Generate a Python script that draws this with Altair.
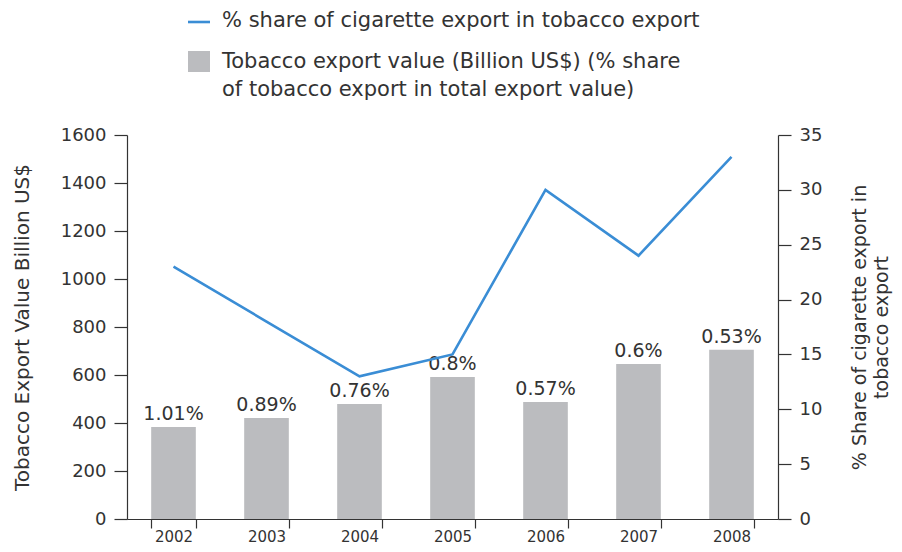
import altair as alt
import pandas as pd

years = ["2002", "2003", "2004", "2005", "2006", "2007", "2008"]
export_value = [383, 421, 479, 592, 487, 646, 705]
cig_share = [23, 18, 13, 15, 30, 24, 33]
bar_labels = ["1.01%", "0.89%", "0.76%", "0.8%", "0.57%", "0.6%", "0.53%"]

legend_line_label = "% share of cigarette export in tobacco export"
legend_bar_label = ["Tobacco export value (Billion US$) (% share",
                    "of tobacco export in total export value)"]

FONT = "DejaVu Sans"
TXT = "#333333"
BAR = "#BBBCBF"
LINE = "#3A8DD5"

df = pd.DataFrame({"year": years, "value": export_value,
                   "share": cig_share, "label": bar_labels})

left_title = "Tobacco Export Value Billion US$"
left_axis = alt.Axis(values=list(range(0, 1601, 200)), grid=False, format="d",
                     labelFont=FONT, labelFontSize=18, labelColor=TXT,
                     titleFont=FONT, titleFontSize=20, titleColor=TXT,
                     titleFontWeight="normal", tickSize=13, labelPadding=8,
                     titlePadding=28, domainColor=TXT, tickColor=TXT,
                     domainWidth=1.2, tickWidth=1.2)

x_enc = alt.X("year:N", sort=years, title=None,
              scale=alt.Scale(paddingInner=0.52, paddingOuter=0.26),
              axis=alt.Axis(labelAngle=0, labelFont=FONT, labelFontSize=15,
                            labelColor=TXT, domainColor=TXT, tickColor=TXT,
                            tickSize=9, tickBand="extent", labelPadding=1,
                            domainWidth=1.2, tickWidth=1.2))

base = alt.Chart(df)

bars = base.mark_bar(color=BAR).encode(
    x=x_enc,
    y=alt.Y("value:Q", scale=alt.Scale(domain=[0, 1600]), title=left_title,
            axis=left_axis),
)

texts = base.mark_text(font=FONT, fontSize=19, color=TXT, baseline="bottom", dy=-3).encode(
    x=alt.X("year:N", sort=years),
    y=alt.Y("value:Q", scale=alt.Scale(domain=[0, 1600]), title=left_title,
            axis=left_axis),
    text="label:N",
)

bar_layer = alt.layer(bars, texts)

line = base.mark_line(color=LINE, strokeWidth=2.6).encode(
    x=alt.X("year:N", sort=years),
    y=alt.Y("share:Q", scale=alt.Scale(domain=[0, 35]),
            title=["% Share of cigarette export in", "tobacco export"],
            axis=alt.Axis(orient="right", values=list(range(0, 36, 5)), grid=False,
                          labelFont=FONT, labelFontSize=18, labelColor=TXT,
                          titleFont=FONT, titleFontSize=19, titleColor=TXT,
                          titleFontWeight="normal", tickSize=13, labelPadding=8,
                          titleAngle=270, titlePadding=26, titleLineHeight=22,
                          domainColor=TXT, tickColor=TXT, domainWidth=1.2,
                          tickWidth=1.2)),
)

leg_df = pd.DataFrame({"a": [1]})
leg = alt.Chart(leg_df)
leg_line = leg.mark_rule(color=LINE, strokeWidth=2.6).encode(
    x=alt.value(61), x2=alt.value(83), y=alt.value(-113))
leg_sq = leg.mark_rect(color=BAR).encode(
    x=alt.value(61), x2=alt.value(83), y=alt.value(-84), y2=alt.value(-63))
leg_t1 = leg.mark_text(font=FONT, fontSize=21, color=TXT, align="left",
                       baseline="middle", text=legend_line_label).encode(
    x=alt.value(95), y=alt.value(-114))
leg_t2 = leg.mark_text(font=FONT, fontSize=21, color=TXT, align="left",
                       baseline="middle", text=legend_bar_label[0]).encode(
    x=alt.value(95), y=alt.value(-73))
leg_t3 = leg.mark_text(font=FONT, fontSize=21, color=TXT, align="left",
                       baseline="middle", text=legend_bar_label[1]).encode(
    x=alt.value(95), y=alt.value(-45))

chart = alt.layer(bar_layer, line, leg_line, leg_sq, leg_t1, leg_t2, leg_t3).resolve_scale(
    y="independent"
).properties(
    width=651, height=384,
    background="white",
    autosize=alt.AutoSizeParams(type="none"),
    padding={"left": 119, "top": 127, "right": 116, "bottom": 25},
).configure_view(stroke="transparent", strokeWidth=0).configure_axis(
    grid=False
)

chart.save("out.html", embed_options={"renderer": "svg", "actions": False})
